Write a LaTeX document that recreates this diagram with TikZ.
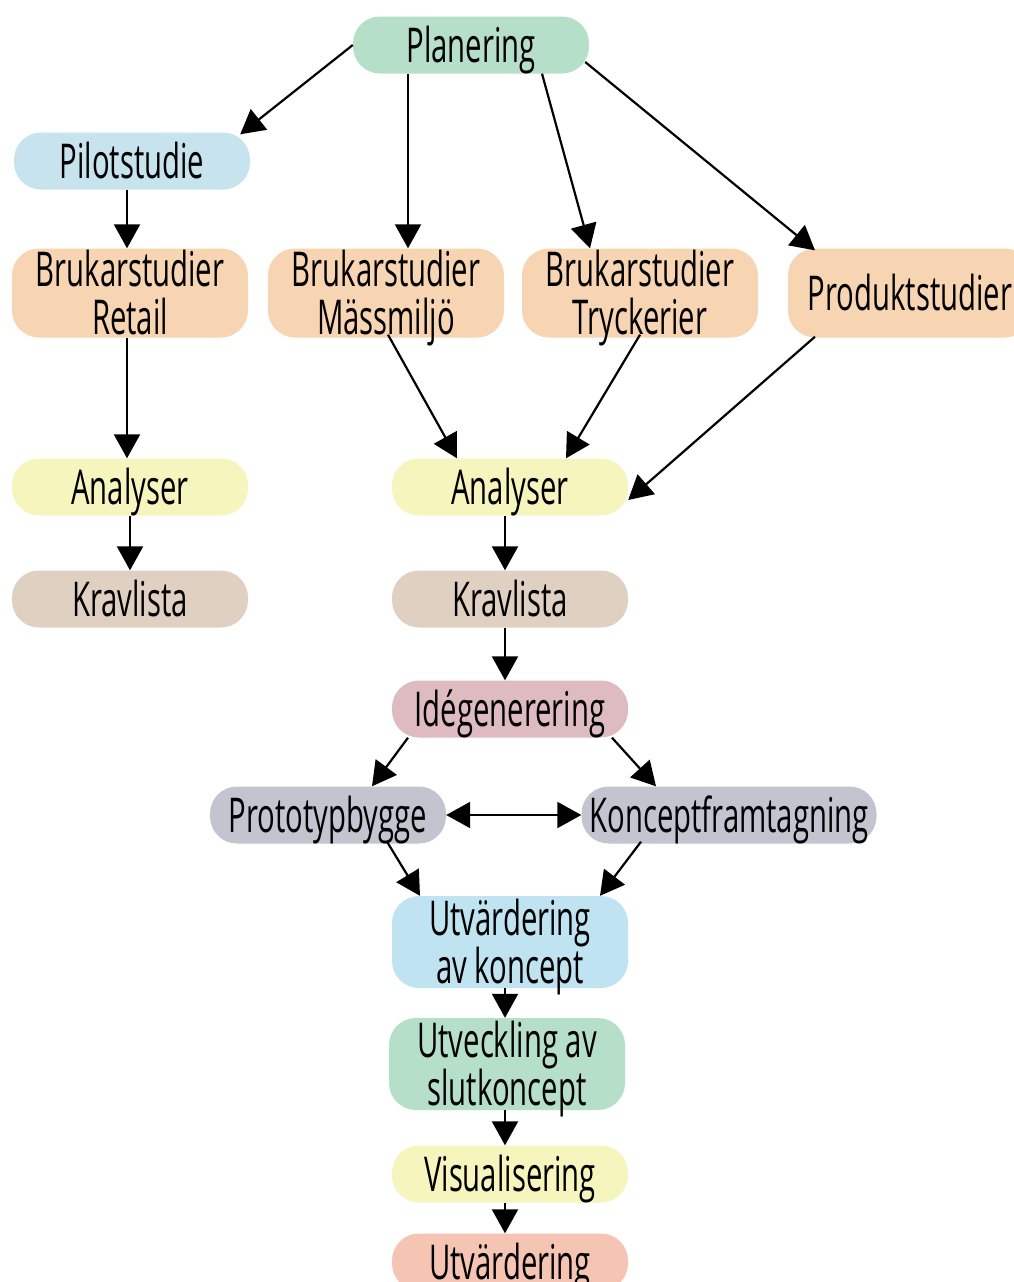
\documentclass[tikz,border=0pt]{standalone}
\usepackage{fontspec}
\setmainfont[FakeStretch=0.61]{Open Sans}
\usetikzlibrary{arrows.meta}
\definecolor{cgreen}{HTML}{B5DFC8}
\definecolor{cblue}{HTML}{C6E3EE}
\definecolor{corange}{HTML}{F7D5B2}
\definecolor{cyellow}{HTML}{F6F5BE}
\definecolor{cbeige}{HTML}{DFD0C1}
\definecolor{cpink}{HTML}{DDBBC1}
\definecolor{cgrey}{HTML}{C2C4D0}
\definecolor{cblue2}{HTML}{BFE3F1}
\definecolor{csalmon}{HTML}{F5C4B3}
\tikzset{
  box/.style={rounded corners=27pt, minimum width=236pt, minimum height=57pt,
    align=center, inner sep=0pt, text=black, text height=34pt, text depth=0pt,
    font=\fontsize{48}{48}\selectfont},
  tall/.style={box, minimum height=89pt, text height=82pt, text depth=0pt},
  arr/.style={line width=2.2pt, -{Triangle[length=24pt,width=26pt]}},
  darr/.style={line width=2.2pt, {Triangle[length=24pt,width=26pt]}-{Triangle[length=24pt,width=26pt]}}
}
\begin{document}
\begin{tikzpicture}[x=1pt,y=-1pt]
\clip (0,0) rectangle (1014,1282);
\fill[white] (0,0) rectangle (1014,1282);
\node[box, fill=cgreen] (plan) at (471,45) {Planering};
\node[box, fill=cblue] (pilot) at (132,161) {Pilotstudie};
\node[tall, fill=corange] (retail) at (130,293) {Brukarstudier\\Retail};
\node[tall, fill=corange] (mass) at (386,293) {Brukarstudier\\Mässmiljö};
\node[tall, fill=corange] (tryck) at (640,293) {Brukarstudier\\Tryckerier};
\node[box, fill=corange, minimum height=89pt, minimum width=244pt] (prod) at (910,293) {Produktstudier};
\node[box, fill=cyellow] (anL) at (130,487) {Analyser};
\node[box, fill=cyellow] (anR) at (510,487) {Analyser};
\node[box, fill=cbeige] (krL) at (130,599) {Kravlista};
\node[box, fill=cbeige] (krR) at (510,599) {Kravlista};
\node[box, fill=cpink] (ide) at (510,709) {Idégenerering};
\node[box, fill=cgrey] (proto) at (328,815) {Prototypbygge};
\node[box, fill=cgrey, minimum width=295pt] (konc) at (729,815) {Konceptframtagning};
\node[tall, fill=cblue2, minimum height=92pt] (utvk) at (510,942) {Utvärdering\\av koncept};
\node[tall, fill=cgreen, minimum height=92pt] (utveck) at (507,1064) {Utveckling av\\slutkoncept};
\node[box, fill=cyellow] (vis) at (510,1174) {Visualisering};
\node[box, fill=csalmon] (utv) at (510,1262) {Utvärdering};

\draw[arr] (plan.west) -- ([xshift=-10pt,yshift=-2pt]pilot.north east);
\draw[arr] ([xshift=-63pt]plan.south) -- ([xshift=22pt]mass.north);
\draw[arr] ([xshift=71pt]plan.south) -- ([xshift=-50pt]tryck.north);
\draw[arr] ([xshift=-4pt,yshift=-17pt]plan.east) -- ([xshift=-95pt,yshift=-2pt]prod.north);
\draw[arr] ([xshift=-5pt]pilot.south) -- ([xshift=-3pt]retail.north);
\draw[arr] ([xshift=-3pt]retail.south) -- ([xshift=-3pt]anL.north);
\draw[arr] ([xshift=2pt,yshift=3pt]mass.south) -- ([xshift=-53pt]anR.north);
\draw[arr] ([yshift=3pt]tryck.south) -- ([xshift=56pt]anR.north);
\draw[arr] ([xshift=-95pt,yshift=1pt]prod.south) -- ([yshift=-13pt]anR.east);
\draw[arr] (anL.south) -- (krL.north);
\draw[arr] ([xshift=-5pt]anR.south) -- ([xshift=-5pt]krR.north);
\draw[arr] ([xshift=-5pt]krR.south) -- ([xshift=-5pt]ide.north);
\draw[arr] ([xshift=-102pt]ide.south) -- ([xshift=44pt]proto.north);
\draw[arr] ([xshift=102pt]ide.south) -- ([xshift=-73pt]konc.north);
\draw[darr] (proto.east) -- (konc.west);
\draw[arr] ([xshift=59pt,yshift=2pt]proto.south) -- ([xshift=-90pt]utvk.north);
\draw[arr] ([xshift=-88pt,yshift=2pt]konc.south) -- ([xshift=90pt]utvk.north);
\draw[arr] ([xshift=-5pt]utvk.south) -- ([xshift=-2pt]utveck.north);
\draw[arr] ([xshift=-2pt]utveck.south) -- ([xshift=-5pt]vis.north);
\draw[arr] ([xshift=-5pt]vis.south) -- ([xshift=-5pt]utv.north);
\end{tikzpicture}
\end{document}
